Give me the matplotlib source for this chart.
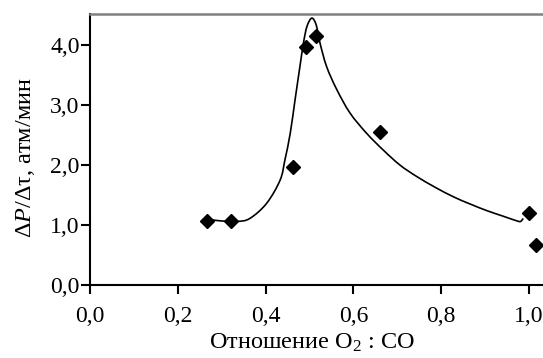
import matplotlib
matplotlib.use("Agg")
import numpy as np
import matplotlib.pyplot as plt
from matplotlib.path import Path
from matplotlib.patches import PathPatch
from matplotlib.ticker import FuncFormatter

plt.rcParams['font.family'] = ['Liberation Serif', 'DejaVu Serif']
plt.rcParams['mathtext.fontset'] = 'custom'
plt.rcParams['mathtext.rm'] = 'Liberation Serif'
plt.rcParams['mathtext.it'] = 'Liberation Serif:italic'

# измеренные точки
ratio = [0.266, 0.320, 0.463, 0.493, 0.514, 0.660, 1.000, 1.017]
rate = [1.06, 1.06, 1.97, 3.97, 4.15, 2.55, 1.20, 0.66]

# узлы сглаженной кривой
curve_x = [0.262, 0.296, 0.335, 0.364, 0.402, 0.433, 0.444, 0.456, 0.467, 0.478,
           0.486, 0.494, 0.505, 0.515, 0.524, 0.539, 0.562, 0.592, 0.630, 0.668,
           0.706, 0.744, 0.786, 0.828, 0.866, 0.904, 0.940, 0.972, 0.981, 0.987]
curve_y = [1.10, 1.07, 1.06, 1.11, 1.36, 1.75, 2.09, 2.53, 3.09, 3.64,
           4.03, 4.31, 4.45, 4.34, 4.03, 3.64, 3.26, 2.87, 2.53, 2.25,
           2.00, 1.81, 1.63, 1.47, 1.35, 1.24, 1.15, 1.07, 1.06, 1.11]

xticks = [0.0, 0.2, 0.4, 0.6, 0.8, 1.0]
yticks = [0.0, 1.0, 2.0, 3.0, 4.0]


def smooth_path(ax, xs, ys):
    # кривая Безье через узлы (как сглаженная линия в Excel), считаем в пикселях
    pts = ax.transData.transform(np.column_stack([xs, ys]))
    n = len(pts)
    verts = [pts[0]]
    codes = [Path.MOVETO]
    for i in range(n - 1):
        p0 = pts[i - 1] if i > 0 else pts[i]
        p1 = pts[i]
        p2 = pts[i + 1]
        p3 = pts[i + 2] if i + 2 < n else pts[i + 1]
        c1 = p1 + (p2 - p0) / 6.0
        c2 = p2 - (p3 - p1) / 6.0
        verts += [c1, c2, p2]
        codes += [Path.CURVE4] * 3
    verts = ax.transData.inverted().transform(np.array(verts))
    return Path(verts, codes)


fig = plt.figure(figsize=(5.43, 3.58), dpi=100)
ax = fig.add_axes([0.166, 0.204, 0.834, 0.757])

ax.set_xlim(0, 1.032)
ax.set_ylim(0, 4.52)

ax.add_patch(PathPatch(smooth_path(ax, curve_x, curve_y), facecolor='none',
                       edgecolor='black', lw=1.2, zorder=2))
ax.plot(ratio, rate, linestyle='none', marker='D', ms=7.5, color='black', zorder=3,
        clip_on=False)

ax.set_xticks(xticks)
ax.set_yticks(yticks)
fmt = FuncFormatter(lambda v, p: f"{v:.1f}".replace('.', ','))
ax.xaxis.set_major_formatter(fmt)
ax.yaxis.set_major_formatter(fmt)

ax.tick_params(axis='both', direction='out', length=6.5, width=1.5, labelsize=17)
ax.tick_params(axis='x', pad=9)
ax.tick_params(axis='y', pad=1)

ax.spines['right'].set_visible(False)
ax.spines['left'].set_linewidth(1.5)
ax.spines['bottom'].set_linewidth(1.5)
ax.spines['top'].set_linewidth(1.8)
ax.spines['top'].set_color('#808080')

ax.set_xlabel('Отношение $\\mathrm{O_2}$ : CO', fontsize=17.5)
ax.set_ylabel('Δ$P$/Δτ, атм/мин', fontsize=17.5)
ax.xaxis.set_label_coords(0.49, -0.172)
ax.yaxis.set_label_coords(-0.118, 0.47)

fig.savefig('out.png', dpi=100)
